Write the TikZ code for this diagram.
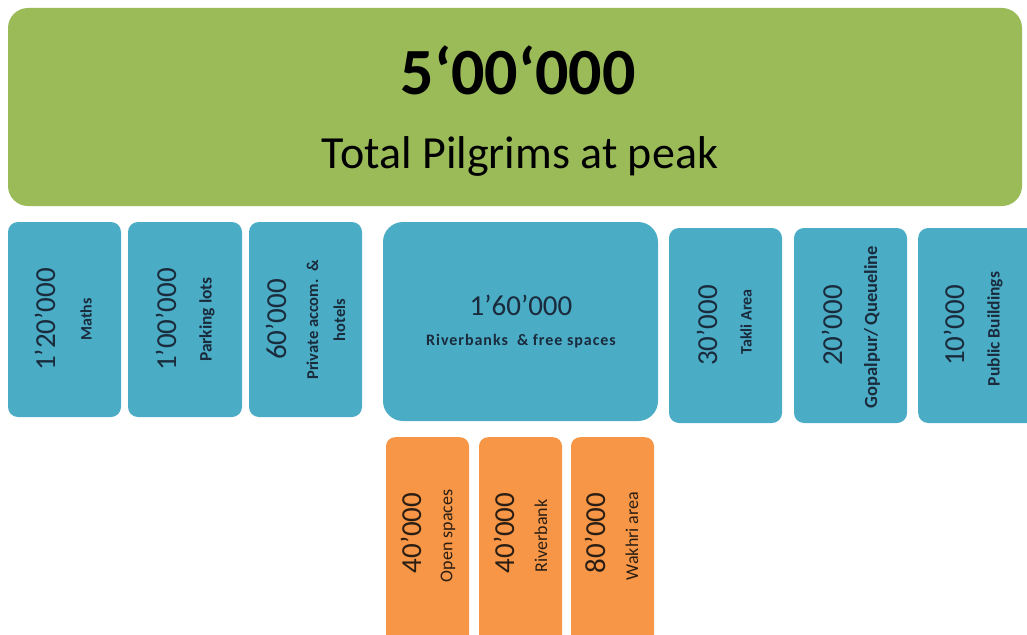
\documentclass[tikz,border=0pt]{standalone}
\usepackage{fontspec}
\setmainfont{Carlito}
\definecolor{pgreen}{HTML}{9BBB59}
\definecolor{pblue}{HTML}{4BACC6}
\definecolor{porange}{HTML}{F79646}
\definecolor{ptext}{HTML}{1A2B3C}
\definecolor{potext}{HTML}{2A1E14}
\newcommand{\numfs}{\fontsize{29}{30}\selectfont}
\newcommand{\labsz}[1]{\fontsize{#1}{#1}\selectfont\bfseries}
\begin{document}
\begin{tikzpicture}[x=1pt,y=-1pt,
  greenbox/.style={fill=pgreen, draw=none, rounded corners=20pt, inner sep=0pt},
  bluebox/.style={fill=pblue, draw=none, rounded corners=10pt, inner sep=0pt},
  bigblue/.style={fill=pblue, draw=none, rounded corners=20pt, inner sep=0pt},
  orangebox/.style={fill=porange, draw=none, rounded corners=9pt, inner sep=0pt},
  num/.style={rotate=90, inner sep=0pt, text=ptext, font=\numfs},
  lab/.style={rotate=90, inner sep=0pt, text=ptext, font=\labsz{16}, align=center},
  onum/.style={num, text=potext},
  olab/.style={rotate=90, inner sep=0pt, text=potext, font=\fontsize{18}{18}\selectfont}
]
\useasboundingbox (0,0) rectangle (1027,634);
\fill[white] (0,0) rectangle (1027,634);
\clip (0,0) rectangle (1027,634);
% top
\node[greenbox, minimum width=1014pt, minimum height=198pt] (total) at (515,107) {};
\node[inner sep=0pt, font=\fontsize{66}{68}\selectfont\bfseries, text=black] (totalnum) at (518,70) {5‘00‘000};
\node[inner sep=0pt, font=\fontsize{46}{48}\selectfont, text=black, anchor=base] (totallab) at (520,168) {Total Pilgrims at peak};
% blue boxes
\node[bluebox, minimum width=113pt, minimum height=195pt] (maths) at (64.5,319.5) {};
\node[num] (mathsn) at (45,319.5) {1’20’000};
\node[lab] (mathsl) at (86,319.5) {Maths};
\node[bluebox, minimum width=114pt, minimum height=195pt] (park) at (185,319.5) {};
\node[num] (parkn) at (166,319.5) {1’00’000};
\node[lab, font=\labsz{17.5}] (parkl) at (207,319.5) {Parking lots};
\node[bluebox, minimum width=113pt, minimum height=195pt] (priv) at (305.5,319.5) {};
\node[num] (privn) at (276,319.5) {60’000};
\node[lab, font=\fontsize{16.5}{27}\selectfont\bfseries] (privl) at (326,320) {Private accom.\ \ \&\\hotels};
\node[bigblue, minimum width=275pt, minimum height=199pt] (river) at (520.5,321.5) {};
\node[inner sep=0pt, text=ptext, font=\numfs] (rivern) at (521,305) {1’60’000};
\node[inner sep=0pt, text=ptext, font=\labsz{16}\addfontfeature{LetterSpace=6}] (riverl) at (521,341) {Riverbanks \ \& free spaces};
\node[bluebox, minimum width=113pt, minimum height=195pt] (takli) at (725.5,325.5) {};
\node[num] (taklin) at (707,325.5) {30’000};
\node[lab] (taklil) at (746,322) {Takli Area};
\node[bluebox, minimum width=113pt, minimum height=195pt] (gopal) at (850.5,325.5) {};
\node[num] (gopaln) at (832,325.5) {20’000};
\node[lab, font=\labsz{18.5}] (gopall) at (872,327) {Gopalpur/\,Queueline};
\node[bluebox, minimum width=130pt, minimum height=195pt, anchor=west] (public) at (918,325.5) {};
\node[num] (publicn) at (954,325.5) {10’000};
\node[lab, font=\labsz{17.5}] (publicl) at (995,329) {Public Buildings};
% orange boxes
\node[orangebox, minimum width=83pt, minimum height=210pt, anchor=north] (open) at (427.5,437) {};
\node[onum] (openn) at (411,533) {40’000};
\node[olab] (openl) at (448,536) {Open spaces};
\node[orangebox, minimum width=83pt, minimum height=210pt, anchor=north] (bank) at (520.5,437) {};
\node[onum] (bankn) at (504,533) {40’000};
\node[olab] (bankl) at (541,536) {Riverbank};
\node[orangebox, minimum width=83pt, minimum height=210pt, anchor=north] (wakhri) at (612.5,437) {};
\node[onum] (wakhrin) at (595,533) {80’000};
\node[olab] (wakhril) at (632,536) {Wakhri area};
\end{tikzpicture}
\end{document}
